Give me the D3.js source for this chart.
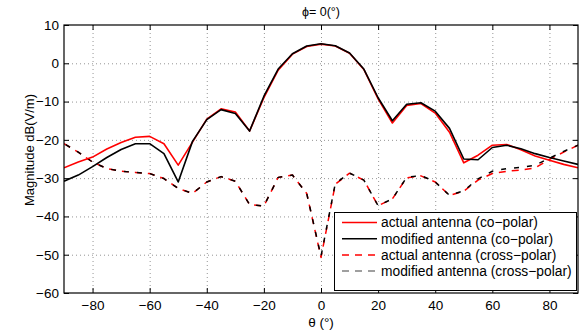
<!DOCTYPE html>
<html>
<head>
<meta charset="utf-8">
<script src="https://cdn.jsdelivr.net/npm/d3@7"></script>
<style>
  html, body { margin: 0; padding: 0; background: #fff; }
  svg { display: block; font-family: "Liberation Sans", Arial, Helvetica, sans-serif; }
</style>
</head>
<body>
<svg id="chart" width="587" height="331"></svg>
<script>
// ---- data ----
const theta = [-90,-85,-80,-75,-70,-65,-60,-55,-50,-45,-40,-35,-30,-25,-20,-15,-10,-5,0,5,10,15,20,25,30,35,40,45,50,55,60,65,70,75,80,85,90];
const actualCo = [-27.3,-25.8,-24.5,-22.4,-20.7,-19.3,-19.1,-21.0,-26.6,-20.6,-14.6,-11.9,-12.7,-17.7,-9.0,-1.8,2.4,4.4,5.0,4.5,2.6,-1.6,-9.3,-15.6,-11.0,-10.5,-13.0,-18.0,-26.0,-24.0,-21.4,-21.2,-22.6,-24.2,-25.3,-26.4,-27.3];
const modifiedCo = [-30.8,-29.2,-27.0,-24.6,-22.5,-21.0,-21.0,-23.6,-31.0,-20.4,-14.7,-12.1,-13.1,-17.7,-8.6,-1.5,2.5,4.5,5.1,4.6,2.7,-1.5,-9.0,-15.0,-10.7,-10.3,-12.5,-17.0,-25.0,-25.2,-22.0,-21.4,-22.3,-23.6,-24.6,-25.5,-26.4];
const actualCross = [-21.0,-23.2,-25.8,-27.5,-28.2,-28.5,-28.8,-30.1,-32.7,-34.0,-31.0,-29.6,-30.8,-36.9,-37.3,-29.8,-29.2,-34.0,-50.7,-31.6,-28.7,-30.5,-37.2,-35.4,-29.9,-29.4,-31.0,-34.5,-33.4,-30.5,-28.8,-28.2,-27.9,-27.3,-25.1,-23.2,-21.4];
const modifiedCross = [-21.0,-23.2,-25.8,-27.5,-28.2,-28.5,-28.8,-30.1,-32.7,-34.0,-31.0,-29.6,-30.8,-36.9,-37.3,-29.8,-29.2,-34.0,-50.4,-31.4,-28.7,-30.5,-37.2,-35.4,-29.8,-29.3,-31.0,-34.5,-33.3,-30.2,-28.2,-27.5,-27.2,-26.6,-24.8,-23.0,-21.4];
const xTicks = [-80,-60,-40,-20,0,20,40,60,80];
const yTicks = [-60,-50,-40,-30,-20,-10,0,10];
const seriesNames = ["actual antenna (co\u2212polar)","modified antenna (co\u2212polar)","actual antenna (cross\u2212polar)","modified antenna (cross\u2212polar)"];
const titleText = "\u03D5= 0(\u00B0)";
const xLabel = "\u03B8 (\u00B0)";
const yLabel = "Magnitude dB(V/m)";

// ---- layout ----
const L = 64, R = 578, T = 25, B = 293;
const FS = "13.5px";
const x = d3.scaleLinear().domain([-90, 90]).range([L, R]);
const y = d3.scaleLinear().domain([-60, 10]).range([B, T]);
const svg = d3.select("#chart");

// grid
const grid = svg.append("g").attr("stroke", "#7a7a7a").attr("stroke-width", 0.8).attr("stroke-dasharray", "1,3");
grid.selectAll(".gx").data(xTicks).join("line")
  .attr("x1", d => x(d) + 0.5).attr("x2", d => x(d) + 0.5).attr("y1", T).attr("y2", B);
grid.selectAll(".gy").data(yTicks.filter(d => d > -60 && d < 10)).join("line")
  .attr("x1", L).attr("x2", R).attr("y1", d => y(d) + 0.5).attr("y2", d => y(d) + 0.5);

// axes
function styleAxis(g, labels) {
  g.select(".domain").remove();
  g.selectAll(".tick line").attr("stroke", "#000").attr("stroke-width", 1);
  g.selectAll(".tick text").attr("fill", "#000").style("font-size", FS);
  if (!labels) g.selectAll(".tick text").remove();
}
svg.append("g").attr("transform", `translate(0,${B})`)
  .call(d3.axisBottom(x).tickValues(xTicks).tickSizeInner(-5).tickSizeOuter(0).tickPadding(7))
  .call(g => styleAxis(g, true));
svg.append("g").attr("transform", `translate(0,${T})`)
  .call(d3.axisTop(x).tickValues(xTicks).tickSizeInner(-5).tickSizeOuter(0))
  .call(g => styleAxis(g, false));
svg.append("g").attr("transform", `translate(${L},0)`)
  .call(d3.axisLeft(y).tickValues(yTicks).tickSizeInner(-5).tickSizeOuter(0).tickPadding(5))
  .call(g => styleAxis(g, true));
svg.append("g").attr("transform", `translate(${R},0)`)
  .call(d3.axisRight(y).tickValues(yTicks).tickSizeInner(-5).tickSizeOuter(0))
  .call(g => styleAxis(g, false));

// lines
svg.append("clipPath").attr("id", "clip").append("rect")
  .attr("x", L).attr("y", T).attr("width", R - L).attr("height", B - T);
const line = d3.line().x((d, i) => x(theta[i])).y(d => y(d));
const plot = svg.append("g").attr("clip-path", "url(#clip)").attr("fill", "none")
  .attr("stroke-linejoin", "round");
plot.append("path").datum(actualCross).attr("d", line).attr("stroke", "#ff0000").attr("stroke-width", 1.5).attr("stroke-dasharray", "7,6");
plot.append("path").datum(modifiedCross).attr("d", line).attr("stroke", "#000").attr("stroke-width", 1.5).attr("stroke-dasharray", "5,8").attr("stroke-dashoffset", -2);
plot.append("path").datum(actualCo).attr("d", line).attr("stroke", "#ff0000").attr("stroke-width", 1.6);
plot.append("path").datum(modifiedCo).attr("d", line).attr("stroke", "#000").attr("stroke-width", 1.6);

// box
svg.append("rect").attr("x", L).attr("y", T).attr("width", R - L).attr("height", B - T)
  .attr("fill", "none").attr("stroke", "#000").attr("stroke-width", 1.2);

// legend
const lg = svg.append("g");
lg.append("rect").attr("x", 334.5).attr("y", 212.5).attr("width", 242).attr("height", 78)
  .attr("fill", "#fff").attr("stroke", "#000").attr("stroke-width", 1);
const legStyles = [
  {c: "#ff0000", dash: null},
  {c: "#000", dash: null},
  {c: "#ff0000", dash: "7,6"},
  {c: "#808080", dash: "7,6"}
];
seriesNames.forEach((name, i) => {
  const yy = 222.5 + i * 16.2;
  lg.append("line").attr("x1", 342).attr("x2", 377).attr("y1", yy).attr("y2", yy)
    .attr("stroke", legStyles[i].c).attr("stroke-width", 1.5)
    .attr("stroke-dasharray", legStyles[i].dash);
  lg.append("text").attr("x", 381).attr("y", yy).attr("dy", "0.35em")
    .style("font-size", "13.8px").attr("fill", "#000").text(name);
});

// titles
svg.append("text").attr("x", 321).attr("y", 16).attr("text-anchor", "middle")
  .style("font-size", "12.5px").text(titleText);
svg.append("text").attr("x", 321).attr("y", 327).attr("text-anchor", "middle")
  .style("font-size", FS).text(xLabel);
svg.append("text").attr("transform", "translate(34,150) rotate(-90)").attr("text-anchor", "middle")
  .style("font-size", "13px").text(yLabel);
</script>
</body>
</html>
